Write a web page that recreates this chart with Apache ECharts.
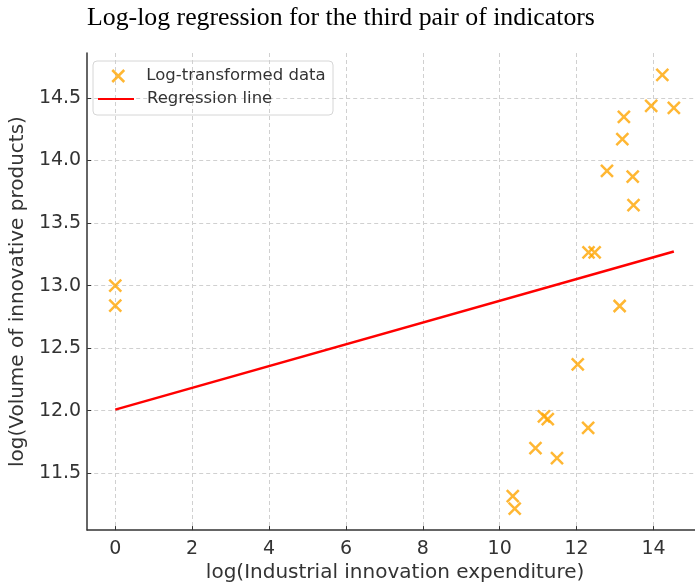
<!DOCTYPE html>
<html>
<head>
<meta charset="utf-8">
<script src="https://cdn.jsdelivr.net/npm/echarts@6/dist/echarts.min.js"></script>
<style>
html,body{margin:0;padding:0;background:#fff;overflow:hidden;}
#chart{width:695px;height:588px;}
</style>
</head>
<body>
<div id="chart"></div>
<script>
// Data
var pointX = [0, 0, 10.34, 10.39, 10.93, 11.15, 11.25, 11.49, 12.03, 12.30, 12.31, 12.47, 12.79, 13.12, 13.19, 13.23, 13.46, 13.48, 13.94, 14.23, 14.53];
var pointY = [13.00, 12.84, 11.317, 11.217, 11.70, 11.955, 11.932, 11.62, 12.371, 11.863, 13.265, 13.265, 13.918, 12.837, 14.172, 14.349, 13.871, 13.643, 14.437, 14.686, 14.421];
var lineX = [0, 14.53];
var lineY = [12.008, 13.273];
var xTicks = [0, 2, 4, 6, 8, 10, 12, 14];
var yTicks = [11.5, 12.0, 12.5, 13.0, 13.5, 14.0, 14.5];
var titleText = 'Log-log regression for the third pair of indicators';
var xName = 'log(Industrial innovation expenditure)';
var yName = 'log(Volume of innovative products)';
var scatterName = 'Log-transformed data';
var lineName = 'Regression line';

var scatterData = pointX.map(function (x, i) { return [x, pointY[i]]; });
var lineData = lineX.map(function (x, i) { return [x, lineY[i]]; });

var chart = echarts.init(document.getElementById('chart'), null, {renderer: 'canvas', width: 695, height: 588});
var axisColor = '#333333';
var gridColor = '#d0d0d0';
var sans = 'DejaVu Sans';
var xMark = 'path://M0,0 L10,10 M10,0 L0,10';

var option = {
  backgroundColor: '#ffffff',
  animation: false,
  title: {
    text: titleText,
    left: 87,
    top: 5,
    padding: 0,
    textStyle: {fontFamily: 'Liberation Serif', fontSize: 25.8, fontWeight: 'normal', color: '#000000'}
  },
  grid: {left: 85, right: 0, top: 53, height: 482, containLabel: false},
  xAxis: {
    type: 'value',
    min: -0.73,
    max: 15.08,
    name: xName,
    nameLocation: 'middle',
    nameGap: 29,
    nameTextStyle: {fontFamily: sans, fontSize: 20, color: axisColor, padding: [0, 0, 0, 8]},
    axisLine: {show: true, onZero: false, lineStyle: {color: axisColor, width: 1.5}},
    axisTick: {show: true, inside: true, length: 4, customValues: xTicks, lineStyle: {color: axisColor, width: 1}},
    axisLabel: {show: true, customValues: xTicks, margin: 9, fontFamily: sans, fontSize: 19, color: axisColor,
      formatter: function (v) { return String(v); }},
    splitLine: {show: true, lineStyle: {color: gridColor, type: [4, 3], width: 1}}
  },
  yAxis: {
    type: 'value',
    min: 11.045,
    max: 14.86,
    name: yName,
    nameLocation: 'middle',
    nameGap: 58,
    nameTextStyle: {fontFamily: sans, fontSize: 20, color: axisColor},
    axisLine: {show: true, onZero: false, lineStyle: {color: axisColor, width: 1.5}},
    axisTick: {show: true, inside: true, length: 4, customValues: yTicks, lineStyle: {color: axisColor, width: 1}},
    axisLabel: {show: true, customValues: yTicks, margin: 6, fontFamily: sans, fontSize: 19, color: axisColor,
      formatter: function (v) { return v.toFixed(1); }},
    splitLine: {show: true, lineStyle: {color: gridColor, type: [4, 3], width: 1}}
  },
  legend: [
    {
      data: [{name: scatterName, icon: xMark}],
      left: 111, top: 67, padding: 0, itemWidth: 12, itemHeight: 12,
      selectedMode: false,
      itemStyle: {color: 'rgba(0,0,0,0)', borderColor: '#FFA500', borderWidth: 2.5},
      textStyle: {fontFamily: sans, fontSize: 16.5, color: axisColor, lineHeight: 18, padding: [0, 0, 0, 17]}
    },
    {
      data: [{name: lineName, icon: 'rect'}],
      left: 98, top: 90, padding: 0, itemWidth: 36, itemHeight: 2,
      selectedMode: false,
      textStyle: {fontFamily: sans, fontSize: 16.5, color: axisColor, lineHeight: 18, padding: [0, 0, 0, 8]}
    }
  ],
  graphic: [
    {type: 'rect', z: -1, zlevel: 0, shape: {x: 93, y: 61, width: 240, height: 54, r: 4},
      style: {fill: 'rgba(255,255,255,0.85)', stroke: '#d6d6d6', lineWidth: 1}}
  ],
  series: [
    {
      name: scatterName,
      type: 'scatter',
      data: scatterData,
      symbol: xMark,
      symbolSize: 12,
      itemStyle: {color: 'rgba(0,0,0,0)', borderColor: '#FFA500', borderWidth: 2.5},
      z: 3
    },
    {
      name: lineName,
      type: 'line',
      data: lineData,
      showSymbol: false,
      symbol: 'none',
      lineStyle: {color: '#FF0000', width: 2.5},
      itemStyle: {color: '#FF0000'},
      z: 4
    }
  ]
};
chart.setOption(option);
</script>
</body>
</html>
